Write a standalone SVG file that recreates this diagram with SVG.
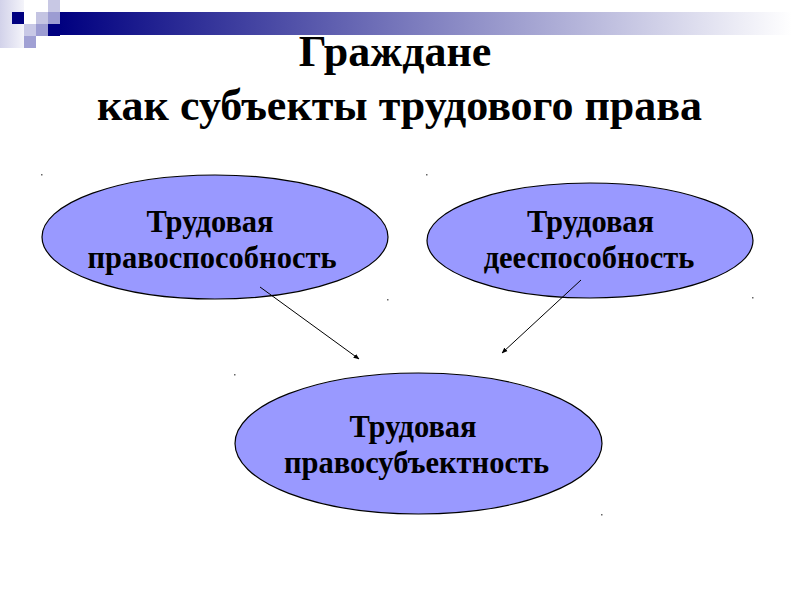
<svg xmlns="http://www.w3.org/2000/svg" width="800" height="600" viewBox="0 0 800 600">
<defs>
<linearGradient id="bar" gradientUnits="userSpaceOnUse" x1="60" y1="0" x2="792" y2="0">
<stop offset="0" stop-color="#000080"/>
<stop offset="1" stop-color="#ffffff"/>
</linearGradient>
<linearGradient id="pale" x1="0" y1="0" x2="1" y2="0">
<stop offset="0" stop-color="#d2d2ea"/>
<stop offset="1" stop-color="#f4f4fa"/>
</linearGradient>
<marker id="arr" viewBox="0 0 10 10" refX="9" refY="5" markerWidth="6" markerHeight="6" orient="auto" markerUnits="userSpaceOnUse">
<path d="M0,1 L10,5 L0,9 z" fill="#000"/>
</marker>
<style>
.node ellipse{fill:#9999ff;stroke:#000;stroke-width:1.2}
.t{font-family:"Liberation Serif","Times New Roman",serif;font-weight:bold;fill:#000;text-anchor:middle}
.lbl{font-size:30.5px}
.title{font-size:44px}
.conn line{stroke:#000;stroke-width:1;marker-end:url(#arr)}
.dot{fill:#666}
</style>
</defs>
<rect width="800" height="600" fill="#fff"/>
<g id="decor">
<rect x="0" y="0" width="24" height="48" fill="url(#pale)"/>
<rect x="12" y="12" width="12" height="12" fill="#000080"/>
<rect x="48" y="0" width="12" height="12" fill="#c8c8e4"/>
<rect x="36" y="12" width="12" height="12" fill="#c4c4e2"/>
<rect x="48" y="12" width="12" height="12" fill="#9c9cd2"/>
<rect x="24" y="24" width="12" height="12" fill="#c8c8e6"/>
<rect x="36" y="24" width="12" height="12" fill="#9c9cd2"/>
<rect x="48" y="24" width="12" height="12" fill="#000080"/>
<rect x="24" y="36" width="12" height="12" fill="#a0a0d4"/>
<rect x="60" y="12" width="732" height="23" fill="url(#bar)"/>
</g>
<g id="title">
<text class="t title" x="395" y="66">Граждане</text>
<text class="t title" x="399.5" y="120">как субъекты трудового права</text>
</g>
<g id="node-pravosposobnost" class="node">
<ellipse cx="215" cy="237" rx="173" ry="62"/>
<text class="t lbl" x="210" y="232">Трудовая</text>
<text class="t lbl" x="212" y="268">правоспособность</text>
</g>
<g id="node-deesposobnost" class="node">
<ellipse cx="590" cy="240.5" rx="163" ry="57.5"/>
<text class="t lbl" x="590.5" y="232">Трудовая</text>
<text class="t lbl" x="589" y="268">дееспособность</text>
</g>
<g id="node-pravosubektnost" class="node">
<ellipse cx="418.5" cy="443.5" rx="183.5" ry="70.5"/>
<text class="t lbl" x="413" y="437">Трудовая</text>
<text class="t lbl" x="416.5" y="473">правосубъектность</text>
</g>
<g id="connectors" class="conn">
<line x1="260" y1="287" x2="359" y2="359"/>
<line x1="581" y1="280" x2="502" y2="353"/>
</g>
<g id="marks">
<rect class="dot" x="41" y="174" width="1.5" height="1.5"/>
<rect class="dot" x="387" y="299" width="1.5" height="1.5"/>
<rect class="dot" x="426" y="174" width="1.5" height="1.5"/>
<rect class="dot" x="752" y="297" width="1.5" height="1.5"/>
<rect class="dot" x="234" y="374" width="1.5" height="1.5"/>
<rect class="dot" x="601" y="514" width="1.5" height="1.5"/>
</g>
</svg>
